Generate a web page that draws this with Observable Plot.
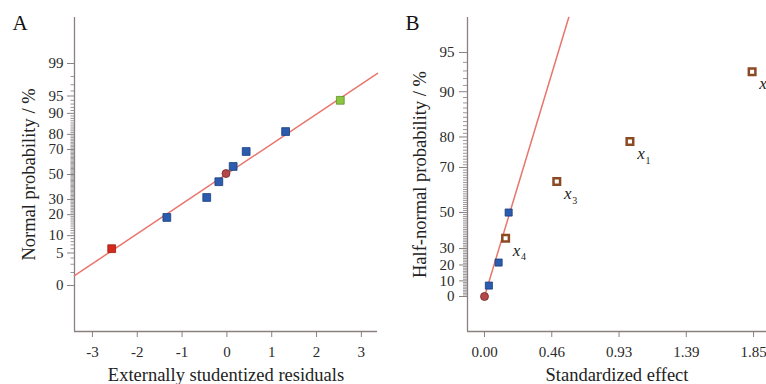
<!DOCTYPE html>
<html><head><meta charset="utf-8">
<script src="https://cdn.jsdelivr.net/npm/d3@7"></script>
<script src="https://cdn.jsdelivr.net/npm/@observablehq/plot@0.6"></script>
<style>
body{margin:0;background:#fff;}
#wrap{display:flex;width:766px;height:384px;overflow:hidden;}
#wrap > div{flex:none;width:383px;height:384px;}
</style></head><body><div id="wrap"><div id="a"></div><div id="b"></div></div>
<script>
// ---------- Panel A: normal probability plot of residuals ----------
const residA = [-2.57, -1.34, -0.45, -0.18, -0.02, 0.14, 0.43, 1.31, 2.53];
const probA  = [6, 18.4, 31.5, 44, 50.8, 56.7, 68.5, 81.6, 94];
const kindA  = ["low", "mid", "mid", "mid", "center", "mid", "mid", "mid", "high"];
const xTicksA = [-3, -2, -1, 0, 1, 2, 3];
const yTickPctA = [1, 5, 10, 20, 30, 50, 70, 80, 90, 95, 99];
const yTickLabelA = ["0", "5", "10", "20", "30", "50", "70", "80", "90", "95", "99"];
const fitResidA = [-3.4, 3.36];
const fitProbA = [1.7, 98.3];

// ---------- Panel B: half-normal plot of effects ----------
const effectB = [0, 0.03, 0.097, 0.145, 0.166, 0.497, 1.0, 1.84];
const probB   = [0, 7, 21.5, 36, 50, 64.4, 78.7, 92.9];
const kindB   = ["center", "error", "error", "term", "error", "term", "term", "term"];
const subB    = ["", "", "", "4", "", "3", "1", "2"];
const xTicksB = [0, 0.4625, 0.925, 1.3875, 1.85];
const xTickLabelB = ["0.00", "0.46", "0.93", "1.39", "1.85"];
const yTickPctB = [0, 10, 20, 30, 50, 70, 80, 90, 95];
const yTickLabelB = ["0", "10", "20", "30", "50", "70", "80", "90", "95"];
const fitEffectB = [0, 0.579];
const fitProbB = [0, 97.5];

// inverse normal CDF (Acklam)
function probit(p){
  const a=[-3.969683028665376e+01,2.209460984245205e+02,-2.759285104469687e+02,1.383577518672690e+02,-3.066479806614716e+01,2.506628277459239e+00];
  const b=[-5.447609879822406e+01,1.615858368580409e+02,-1.556989798598866e+02,6.680131188771972e+01,-1.328068155288572e+01];
  const c=[-7.784894002430293e-03,-3.223964580411365e-01,-2.400758277161838e+00,-2.549671010321420e+00,4.374664141464968e+00,2.938163982698783e+00];
  const d=[7.784695709041462e-03,3.224671290700398e-01,2.445134137142996e+00,3.754408661907416e+00];
  const pl=0.02425, ph=1-pl; let q,r;
  if(p<pl){q=Math.sqrt(-2*Math.log(p));return (((((c[0]*q+c[1])*q+c[2])*q+c[3])*q+c[4])*q+c[5])/((((d[0]*q+d[1])*q+d[2])*q+d[3])*q+1);}
  if(p<=ph){q=p-0.5;r=q*q;return (((((a[0]*r+a[1])*r+a[2])*r+a[3])*r+a[4])*r+a[5])*q/(((((b[0]*r+b[1])*r+b[2])*r+b[3])*r+b[4])*r+1);}
  q=Math.sqrt(-2*Math.log(1-p));return -(((((c[0]*q+c[1])*q+c[2])*q+c[3])*q+c[4])*q+c[5])/((((d[0]*q+d[1])*q+d[2])*q+d[3])*q+1);
}
const zN = p => probit(p/100);               // normal scale
const zH = p => p <= 0 ? 0 : probit((1 + p/100)/2); // half-normal scale

const FONT = '"Liberation Serif", "Times New Roman", serif';
const AXIS = "#8a8080";
const TEXT = "#2a2a2a";
const LINE = "#e8766c";

function labelOf(ticksZ, labels){
  return d => { const i = ticksZ.findIndex(v => Math.abs(v - d) < 1e-9); return i < 0 ? "" : labels[i]; };
}

// ---- Panel A ----
const ptsA = residA.map((x, i) => ({x, z: zN(probA[i]), kind: kindA[i]}));
const fitA = fitResidA.map((x, i) => ({x, z: zN(fitProbA[i])}));
const majorZA = yTickPctA.map(zN);
const minorZA = d3.range(2, 99).filter(p => !yTickPctA.includes(p)).map(zN);
const xDomA = [-3.4, 3.36], yDomA = [-3.29, 3.29];

const plotA = Plot.plot({
  width: 383, height: 384,
  marginLeft: 74, marginRight: 6, marginTop: 17, marginBottom: 53,
  style: {fontFamily: FONT, fontSize: "15px", color: TEXT, background: "transparent", overflow: "visible"},
  x: {domain: xDomA},
  y: {domain: yDomA},
  marks: [
    Plot.axisY({ticks: minorZA, tickSize: 3.5, tickFormat: () => "", stroke: "#999", label: null}),
    Plot.axisY({ticks: majorZA, tickSize: 7, tickPadding: 4, tickFormat: labelOf(majorZA, yTickLabelA), stroke: AXIS, label: null}),
    Plot.axisX({ticks: xTicksA, tickSize: 6, tickPadding: 9, tickFormat: d => String(d), stroke: AXIS, label: null}),
    Plot.ruleX([xDomA[0]], {stroke: AXIS, strokeWidth: 1.3}),
    Plot.ruleY([yDomA[0]], {stroke: AXIS, strokeWidth: 1.3}),
    Plot.line(fitA, {x: "x", y: "z", stroke: LINE, strokeWidth: 1.5}),
    Plot.dot(ptsA.filter(d => d.kind === "mid"), {x: "x", y: "z", symbol: "square", r: 4.4, fill: "#2b5cae", stroke: "#1b3c7c", strokeWidth: 0.8}),
    Plot.dot(ptsA.filter(d => d.kind === "low"), {x: "x", y: "z", symbol: "square", r: 4.4, fill: "#d62a1c", stroke: "#9a1a12", strokeWidth: 0.8}),
    Plot.dot(ptsA.filter(d => d.kind === "high"), {x: "x", y: "z", symbol: "square", r: 4.4, fill: "#8cc63f", stroke: "#5f8f2a", strokeWidth: 0.8}),
    Plot.dot(ptsA.filter(d => d.kind === "center"), {x: "x", y: "z", symbol: "circle", r: 4, fill: "#b5474a", stroke: "#6e2a2a", strokeWidth: 0.8}),
    Plot.text(["A"], {frameAnchor: "top-left", dx: -62, dy: 6, textAnchor: "start", lineAnchor: "middle", fontSize: 21, fill: "#111"}),
    Plot.text(["Normal probability / %"], {frameAnchor: "left", dx: -45, rotate: -90, lineAnchor: "middle", textAnchor: "middle", fontSize: 18.5, fill: "#222"}),
    Plot.text(["Externally studentized residuals"], {frameAnchor: "bottom", dy: 44, lineAnchor: "middle", textAnchor: "middle", fontSize: 18.5, fill: "#222"})
  ]
});
document.getElementById("a").append(plotA);

// ---- Panel B ----
const ptsB = effectB.map((x, i) => ({x, z: zH(probB[i]), kind: kindB[i], sub: subB[i]}));
const fitB = fitEffectB.map((x, i) => ({x, z: zH(fitProbB[i])}));
const majorZB = yTickPctB.map(zH);
const minorZB = d3.range(1, 95).filter(p => !yTickPctB.includes(p)).map(zH);
const xDomB = [-0.117, 1.939], yDomB = [-0.281, 2.241];

const plotB = Plot.plot({
  width: 383, height: 384,
  marginLeft: 84, marginRight: 0, marginTop: 17, marginBottom: 53,
  style: {fontFamily: FONT, fontSize: "15px", color: TEXT, background: "transparent", overflow: "visible"},
  x: {domain: xDomB},
  y: {domain: yDomB},
  marks: [
    Plot.axisY({ticks: minorZB, tickSize: 4, tickFormat: () => "", stroke: "#999", label: null}),
    Plot.axisY({ticks: majorZB, tickSize: 8, tickPadding: 5, tickFormat: labelOf(majorZB, yTickLabelB), stroke: AXIS, label: null}),
    Plot.axisX({ticks: xTicksB, tickSize: 6, tickPadding: 9, tickFormat: labelOf(xTicksB, xTickLabelB), stroke: AXIS, label: null}),
    Plot.ruleX([xDomB[0]], {stroke: AXIS, strokeWidth: 1.3}),
    Plot.ruleY([yDomB[0]], {stroke: AXIS, strokeWidth: 1.3}),
    Plot.line(fitB, {x: "x", y: "z", stroke: LINE, strokeWidth: 1.5}),
    Plot.dot(ptsB.filter(d => d.kind === "error"), {x: "x", y: "z", symbol: "square", r: 4, fill: "#2b5cae", stroke: "#1b3c7c", strokeWidth: 0.8}),
    Plot.dot(ptsB.filter(d => d.kind === "term"), {x: "x", y: "z", symbol: "square", r: 3.7, fill: "white", stroke: "#8b4a22", strokeWidth: 2.5}),
    Plot.dot(ptsB.filter(d => d.kind === "center"), {x: "x", y: "z", symbol: "circle", r: 4, fill: "#b5474a", stroke: "#6e2a2a", strokeWidth: 0.8}),
    Plot.text(ptsB.filter(d => d.sub), {x: "x", y: "z", text: () => "x", dx: 11, dy: 12, fontStyle: "italic", fontSize: 17, fill: "#222"}),
    Plot.text(ptsB.filter(d => d.sub), {x: "x", y: "z", text: "sub", dx: 18, dy: 19, fontSize: 10, fill: "#222"}),
    Plot.text(["B"], {frameAnchor: "top-left", dx: -62, dy: 6, textAnchor: "start", lineAnchor: "middle", fontSize: 21, fill: "#111"}),
    Plot.text(["Half-normal probability / %"], {frameAnchor: "left", dx: -47, rotate: -90, lineAnchor: "middle", textAnchor: "middle", fontSize: 18.5, fill: "#222"}),
    Plot.text(["Standardized effect"], {frameAnchor: "bottom", dy: 44, lineAnchor: "middle", textAnchor: "middle", fontSize: 18.5, fill: "#222"})
  ]
});
document.getElementById("b").append(plotB);
</script>
</body></html>
